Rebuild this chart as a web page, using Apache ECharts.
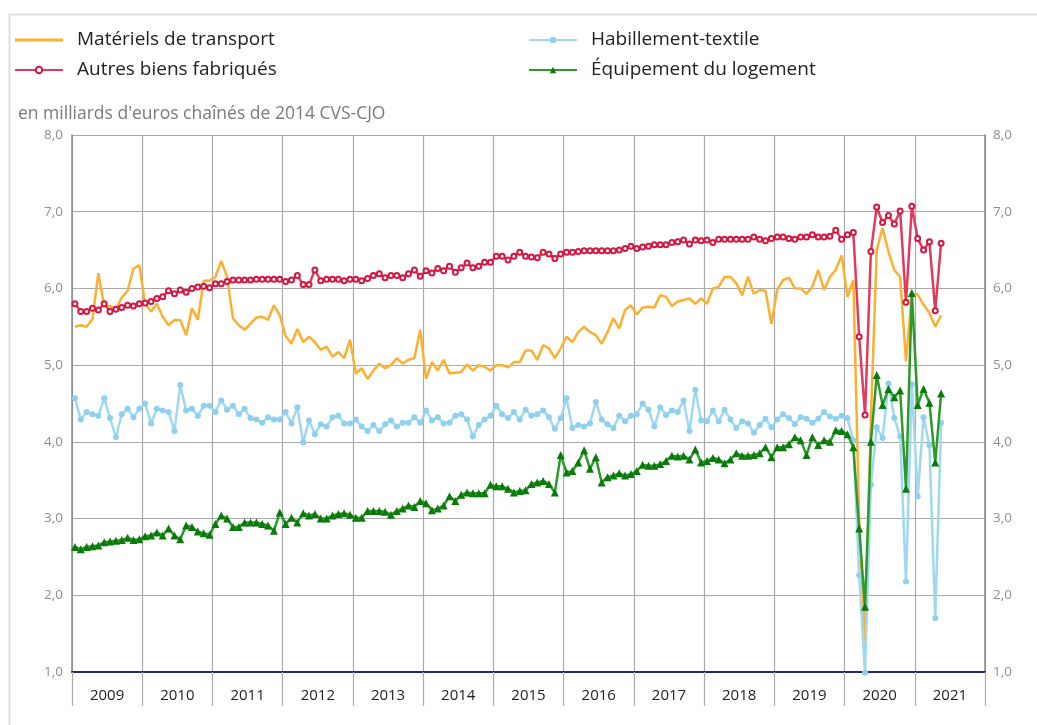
<!DOCTYPE html>
<html>
<head>
<meta charset="utf-8">
<script src="https://cdn.jsdelivr.net/npm/echarts@6/dist/echarts.min.js"></script>
<style>
html,body{margin:0;padding:0;background:#fff;}
#chart{width:1037px;height:725px;}
</style>
</head>
<body>
<div id="chart"></div>
<script>
// ---- Data (monthly, Jan 2009 - May 2021) ----
const years = ['2009','2010','2011','2012','2013','2014','2015','2016','2017','2018','2019','2020','2021'];
const seriesNames = ['Matériels de transport','Autres biens fabriqués','Habillement-textile','Équipement du logement'];
const subtitleText = "en milliards d'euros chaînés de 2014 CVS-CJO";
const yTicks = [1,2,3,4,5,6,7,8];

const transport = [
  5.5, 5.52, 5.5, 5.6, 6.2, 5.77, 5.77, 5.73, 5.88, 5.97, 6.26, 6.3,
  5.8, 5.7, 5.8, 5.63, 5.52, 5.59, 5.59, 5.39, 5.74, 5.59, 6.1, 6.1,
  6.15, 6.36, 6.15, 5.61, 5.52, 5.46, 5.54, 5.62, 5.63, 5.59, 5.78, 5.65,
  5.38, 5.28, 5.47, 5.3, 5.37, 5.3, 5.2, 5.24, 5.11, 5.17, 5.09, 5.33,
  4.89, 4.96, 4.82, 4.93, 5.02, 4.96, 5.0, 5.09, 5.02, 5.07, 5.09, 5.46,
  4.82, 5.04, 4.93, 5.07, 4.89, 4.9, 4.91, 5.01, 4.93, 5.0, 4.98, 4.93,
  5.0, 5.0, 4.97, 5.04, 5.04, 5.19, 5.19, 5.07, 5.26, 5.22, 5.09, 5.22,
  5.37, 5.3, 5.43, 5.5, 5.43, 5.39, 5.28, 5.43, 5.61, 5.48, 5.72, 5.78,
  5.66, 5.75, 5.76, 5.75, 5.91, 5.89, 5.77, 5.83, 5.85, 5.87, 5.8, 5.87,
  5.8, 6.0, 6.02, 6.15, 6.15, 6.07, 5.91, 6.15, 5.93, 5.98, 5.97, 5.54,
  5.98, 6.11, 6.14, 6.0, 6.0, 5.93, 6.02, 6.24, 5.98, 6.15, 6.24, 6.43,
  5.89, 6.11, 3.0, 1.35, 4.3, 6.5, 6.79, 6.48, 6.24, 6.15, 5.05, 5.92,
  5.92, 5.79, 5.68, 5.5, 5.65
];
const autres = [
  5.8, 5.7, 5.7, 5.74, 5.72, 5.8, 5.7, 5.73, 5.75, 5.78, 5.77, 5.8,
  5.81, 5.83, 5.87, 5.89, 5.97, 5.93, 5.98, 5.95, 6.0, 6.02, 6.03, 6.01,
  6.06, 6.06, 6.09, 6.11, 6.11, 6.11, 6.11, 6.12, 6.12, 6.12, 6.12, 6.12,
  6.09, 6.11, 6.17, 6.05, 6.05, 6.24, 6.1, 6.12, 6.12, 6.12, 6.1, 6.12,
  6.12, 6.1, 6.13, 6.17, 6.19, 6.14, 6.17, 6.17, 6.14, 6.19, 6.24, 6.16,
  6.23, 6.2, 6.26, 6.23, 6.29, 6.21, 6.27, 6.33, 6.27, 6.29, 6.34, 6.34,
  6.42, 6.42, 6.37, 6.42, 6.47, 6.42, 6.41, 6.4, 6.47, 6.45, 6.39, 6.45,
  6.47, 6.47, 6.48, 6.49, 6.49, 6.49, 6.49, 6.49, 6.49, 6.5, 6.52, 6.55,
  6.52, 6.54, 6.55, 6.57, 6.57, 6.57, 6.6, 6.61, 6.63, 6.58, 6.63, 6.62,
  6.63, 6.6, 6.64, 6.64, 6.64, 6.64, 6.64, 6.64, 6.67, 6.64, 6.62, 6.65,
  6.67, 6.67, 6.65, 6.64, 6.67, 6.67, 6.7, 6.67, 6.67, 6.68, 6.76, 6.64,
  6.7, 6.73, 5.37, 4.35, 6.48, 7.06, 6.86, 6.95, 6.84, 7.01, 5.82, 7.07,
  6.65, 6.5, 6.61, 5.71, 6.59
];
const habillement = [
  4.57, 4.29, 4.39, 4.36, 4.34, 4.57, 4.31, 4.06, 4.36, 4.43, 4.32, 4.43,
  4.5, 4.24, 4.43, 4.41, 4.39, 4.14, 4.74, 4.41, 4.43, 4.34, 4.47, 4.47,
  4.39, 4.54, 4.42, 4.47, 4.36, 4.43, 4.31, 4.29, 4.25, 4.32, 4.29, 4.29,
  4.39, 4.24, 4.45, 3.99, 4.28, 4.1, 4.23, 4.2, 4.32, 4.34, 4.24, 4.24,
  4.29, 4.2, 4.14, 4.22, 4.14, 4.23, 4.28, 4.2, 4.25, 4.25, 4.32, 4.25,
  4.41, 4.28, 4.32, 4.24, 4.25, 4.34, 4.36, 4.29, 4.07, 4.22, 4.29, 4.34,
  4.47, 4.36, 4.31, 4.39, 4.29, 4.42, 4.34, 4.36, 4.41, 4.32, 4.17, 4.31,
  4.57, 4.18, 4.22, 4.2, 4.24, 4.52, 4.29, 4.23, 4.18, 4.34, 4.27, 4.34,
  4.36, 4.5, 4.42, 4.2, 4.45, 4.35, 4.41, 4.39, 4.54, 4.14, 4.68, 4.28,
  4.27, 4.41, 4.27, 4.42, 4.29, 4.18, 4.27, 4.24, 4.12, 4.22, 4.3, 4.19,
  4.29, 4.36, 4.31, 4.23, 4.32, 4.3, 4.25, 4.3, 4.39, 4.33, 4.3, 4.34,
  4.31, 4.02, 2.26, 0.99, 3.44, 4.19, 4.05, 4.76, 4.31, 4.07, 2.18, 4.75,
  3.29, 4.32, 3.96, 1.7, 4.25
];
const logement = [
  2.63, 2.6, 2.63, 2.64, 2.65, 2.69, 2.7, 2.71, 2.72, 2.75, 2.72, 2.73,
  2.77, 2.78, 2.82, 2.78, 2.87, 2.78, 2.73, 2.91, 2.89, 2.83, 2.81, 2.79,
  2.93, 3.04, 3.0, 2.89, 2.89, 2.95, 2.95, 2.95, 2.93, 2.91, 2.84, 3.08,
  2.93, 3.01, 2.95, 3.07, 3.04, 3.06, 3.0, 3.0, 3.04, 3.06, 3.07, 3.05,
  3.01, 3.01, 3.1, 3.1, 3.1, 3.09, 3.05, 3.1, 3.13, 3.17, 3.15, 3.23,
  3.2, 3.11, 3.13, 3.17, 3.29, 3.23, 3.31, 3.34, 3.33, 3.33, 3.33, 3.44,
  3.42, 3.42, 3.39, 3.34, 3.36, 3.37, 3.45, 3.47, 3.49, 3.45, 3.34, 3.83,
  3.6, 3.62, 3.73, 3.89, 3.65, 3.8, 3.47, 3.54, 3.56, 3.59, 3.56, 3.58,
  3.62, 3.7, 3.69, 3.69, 3.71, 3.75, 3.82, 3.81, 3.82, 3.77, 3.9, 3.73,
  3.75, 3.79, 3.77, 3.72, 3.77, 3.85, 3.82, 3.82, 3.83, 3.85, 3.93, 3.8,
  3.93, 3.93, 3.97, 4.06, 4.02, 3.83, 4.06, 3.96, 4.02, 4.0, 4.15, 4.14,
  4.1, 3.93, 2.87, 1.85, 4.0, 4.87, 4.48, 4.69, 4.58, 4.67, 3.39, 5.94,
  4.48, 4.69, 4.51, 3.73, 4.63
];

// month categories (12 per year)
const months = [];
years.forEach(y => { for (let m = 1; m <= 12; m++) months.push(y + '-' + (m < 10 ? '0' + m : m)); });

const FONT = "'Open Sans', 'Noto Sans', sans-serif";
const fmt = v => v.toFixed(1).replace('.', ',');

const chart = echarts.init(document.getElementById('chart'), null, {renderer: 'canvas'});
const yAxisBase = {
  type: 'value', min: yTicks[0], max: yTicks[yTicks.length - 1], interval: 1,
  axisLine: {show: true, lineStyle: {color: '#8a8a8a', width: 1.5}},
  axisTick: {show: false},
  axisLabel: {color: '#8f8f8f', fontSize: 13.5, fontFamily: FONT, formatter: fmt}
};
const legendText = {fontSize: 19, color: '#222', fontFamily: FONT, lineHeight: 20, padding: [0, 0, 0, 9]};
chart.setOption({
  animation: false,
  backgroundColor: '#ffffff',
  textStyle: {fontFamily: FONT},
  title: {
    text: subtitleText, left: 13, top: 100,
    textStyle: {color: '#7a7a7a', fontSize: 17.5, fontWeight: 'normal', fontFamily: FONT}
  },
  graphic: [{
    type: 'rect', left: 7, top: 12, shape: {x: 0, y: 0, width: 1040, height: 730},
    style: {fill: 'none', stroke: '#dddddd', lineWidth: 2}, silent: true, z: -1
  }],
  legend: [
    {data: [{name: seriesNames[0], icon: 'path://M0,0 L48,0 L48,3 L0,3 Z'}, seriesNames[1]],
     left: 9, top: 25, orient: 'vertical',
     itemWidth: 48, itemHeight: 8, itemGap: 10, textStyle: legendText},
    {data: [seriesNames[2], seriesNames[3]], left: 523, top: 25, orient: 'vertical',
     itemWidth: 48, itemHeight: 8, itemGap: 10, textStyle: legendText}
  ],
  grid: {left: 72, right: 52, top: 135, bottom: 53, containLabel: false},
  xAxis: [
    {type: 'category', data: months, boundaryGap: true, show: false},
    {type: 'category', data: years, boundaryGap: true, position: 'bottom',
     axisLine: {show: true, lineStyle: {color: '#1f2a7a', width: 2}},
     axisTick: {show: true, length: 34, lineStyle: {color: '#aaaaaa', width: 1.2}},
     axisLabel: {color: '#222', fontSize: 15, fontFamily: FONT, margin: 16},
     splitLine: {show: true, lineStyle: {color: '#aaaaaa', width: 1.2}}}
  ],
  yAxis: [
    Object.assign({}, yAxisBase, {position: 'left',
      axisLabel: Object.assign({}, yAxisBase.axisLabel, {margin: 9}),
      splitLine: {show: true, lineStyle: {color: '#aaaaaa', width: 1.2}}}),
    Object.assign({}, yAxisBase, {position: 'right',
      axisLabel: Object.assign({}, yAxisBase.axisLabel, {margin: 8}),
      splitLine: {show: false}})
  ],
  series: [
    {name: seriesNames[0], type: 'line', data: transport, xAxisIndex: 0, yAxisIndex: 0,
     symbol: 'none', lineStyle: {color: '#fbb031', width: 2.5}, itemStyle: {color: '#fbb031'}, z: 2},
    {name: seriesNames[2], type: 'line', data: habillement, xAxisIndex: 0, yAxisIndex: 0,
     symbol: 'circle', symbolSize: 6, showAllSymbol: true, clip: false,
     lineStyle: {color: '#9fd8f0', width: 2.5}, itemStyle: {color: '#8fd0ee'}, z: 3},
    {name: seriesNames[1], type: 'line', data: autres, xAxisIndex: 0, yAxisIndex: 0,
     symbol: 'emptyCircle', symbolSize: 5, showAllSymbol: true,
     lineStyle: {color: '#e03a5c', width: 2.5}, itemStyle: {color: '#d51640', borderWidth: 1.8}, z: 4},
    {name: seriesNames[3], type: 'line', data: logement, xAxisIndex: 0, yAxisIndex: 0,
     symbol: 'triangle', symbolSize: 8, showAllSymbol: true,
     lineStyle: {color: '#2b9a2b', width: 2.5}, itemStyle: {color: '#0a7a0a'}, z: 5}
  ]
});
</script>
</body>
</html>
